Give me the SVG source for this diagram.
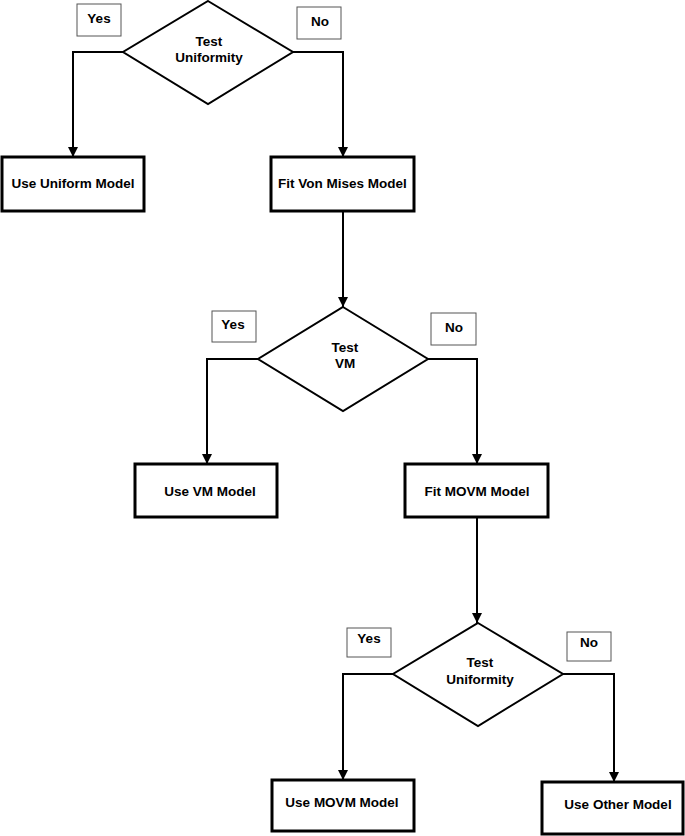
<svg xmlns="http://www.w3.org/2000/svg" width="685" height="836" viewBox="0 0 685 836">
<defs>
<marker id="arr" viewBox="0 0 10 10" refX="10" refY="5" markerWidth="10" markerHeight="10" markerUnits="userSpaceOnUse" orient="auto">
<path d="M0,0 L10,5 L0,10 z" fill="#000"/>
</marker>
<style>
.box{fill:#fff;stroke:#000;stroke-width:3}
.dia{fill:#fff;stroke:#000;stroke-width:2}
.lbl{fill:#fff;stroke:#555;stroke-width:1}
.conn{fill:none;stroke:#000;stroke-width:2;marker-end:url(#arr)}
text{font-family:"Liberation Sans",Arial,sans-serif;font-weight:bold;font-size:13.5px;text-anchor:middle;fill:#000}
</style>
</defs>
<rect width="685" height="836" fill="#fff"/>
<g id="connectors">
<path class="conn" d="M123,52 H73 V157"/>
<path class="conn" d="M293,52 H343 V157"/>
<path class="conn" d="M343,211 V307"/>
<path class="conn" d="M258,359 H207 V464"/>
<path class="conn" d="M428,359 H477 V464"/>
<path class="conn" d="M477,517 V623"/>
<path class="conn" d="M393,674 H343 V780"/>
<path class="conn" d="M563,674 H614 V782"/>
</g>
<g id="label-yes1"><rect class="lbl" x="77" y="4" width="44" height="32"/><text x="99" y="23">Yes</text></g>
<g id="label-no1"><rect class="lbl" x="297" y="7" width="44" height="32"/><text x="320" y="26">No</text></g>
<g id="test-uniformity-1"><path class="dia" d="M208,1 L293,52 L208,104 L123,52 z"/><text x="209" y="46">Test</text><text x="209" y="62">Uniformity</text></g>
<g id="use-uniform"><rect class="box" x="2" y="157" width="142" height="54"/><text x="73" y="188">Use Uniform Model</text></g>
<g id="fit-von-mises"><rect class="box" x="271" y="157" width="143" height="54"/><text x="342.5" y="188">Fit Von Mises Model</text></g>
<g id="label-yes2"><rect class="lbl" x="212" y="311" width="44" height="31"/><text x="233" y="329">Yes</text></g>
<g id="label-no2"><rect class="lbl" x="431" y="313" width="45" height="32"/><text x="454" y="332">No</text></g>
<g id="test-vm"><path class="dia" d="M343,307 L428,359 L343,411 L258,359 z"/><text x="345" y="352">Test</text><text x="345" y="368">VM</text></g>
<g id="use-vm"><rect class="box" x="135" y="464" width="142" height="53"/><text x="210" y="496">Use VM Model</text></g>
<g id="fit-movm"><rect class="box" x="405" y="464" width="143" height="53"/><text x="477" y="496">Fit MOVM Model</text></g>
<g id="label-yes3"><rect class="lbl" x="347" y="628" width="44" height="29"/><text x="369" y="643">Yes</text></g>
<g id="label-no3"><rect class="lbl" x="567" y="632" width="44" height="29"/><text x="589" y="647">No</text></g>
<g id="test-uniformity-2"><path class="dia" d="M478,623 L563,674 L478,726 L393,674 z"/><text x="480" y="667">Test</text><text x="480" y="684">Uniformity</text></g>
<g id="use-movm"><rect class="box" x="272" y="780" width="142" height="51"/><text x="342" y="807">Use MOVM Model</text></g>
<g id="use-other"><rect class="box" x="542" y="782" width="141" height="52"/><text x="618" y="809">Use Other Model</text></g>
</svg>
